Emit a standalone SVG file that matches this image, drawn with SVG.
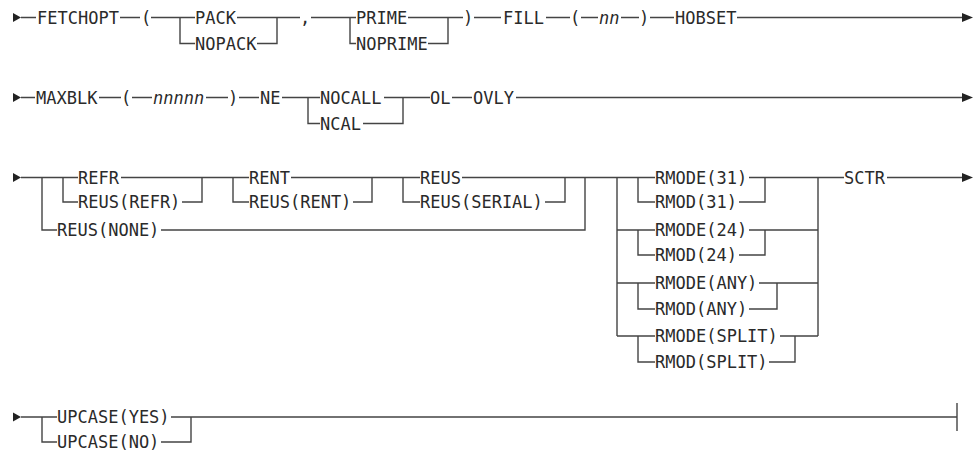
<svg xmlns="http://www.w3.org/2000/svg" width="974" height="454" viewBox="0 0 974 454">
<style>
text{font-family:"DejaVu Sans Mono","Liberation Mono",monospace;font-size:17px;fill:#2a2a2a}
.i{font-style:italic}
.c path{fill:none;stroke:#444;stroke-width:1.4}
.a{fill:#222}
</style>
<rect width="974" height="454" fill="#fff"/>
<g class="c" id="connectors">
<path d="M21 17.5H36M120 17.5H140M151 17.5H195M180 17.5V43.5H195M237 17.5H300M257 43.5H277V17.5M311 17.5H356M350 17.5V43.5H356M408 17.5H463M428 43.5H448V17.5M474 17.5H501M546 17.5H570M581 17.5H598M621 17.5H639M650 17.5H674M737 17.5H962"/>
<path d="M21 97.5H35M99 97.5H121M132 97.5H152M206 97.5H228M239 97.5H259M282 97.5H320M308 97.5V123.5H320M384 97.5H430M363 123.5H403V97.5M452 97.5H472M516 97.5H962"/>
<path d="M21 177.5H78M42 177.5V230H57M63 177.5V202H78M121 177.5H249M182 202H202V177.5M233 177.5V202H249M291 177.5H420M353 202H372V177.5M403 177.5V202H420M462 177.5H655M545 202H565V177.5M161 230H585V177.5M617 177.5V336M638 177.5V202H655M617 230H655M638 230V255H655M617 283H655M638 283V309H655M617 336H655M638 336V362H655M749 177.5H844M739 202H765V177.5M749 230H818M739 255H765V230M759 283H818M749 309H777V283M780 336H818M769 362H795V336M818 177.5V336M887 177.5H962"/>
<path d="M21 417H57M42 417V442H57M171 417H957M161 442H191V417M957 403V431"/>
<polygon class="a" points="13,13 21,17.5 13,22"/>
<polygon class="a" points="962,13 973,17.5 962,22"/>
<polygon class="a" points="13,93 21,97.5 13,102"/>
<polygon class="a" points="962,93 973,97.5 962,102"/>
<polygon class="a" points="13,173 21,177.5 13,182"/>
<polygon class="a" points="962,173 973,177.5 962,182"/>
<polygon class="a" points="13,412.5 21,417 13,421.5"/>
</g>
<g id="n-fetchopt"><text x="37" y="23.7">FETCHOPT</text></g>
<g id="n-lp1"><text x="141" y="23.7">(</text></g>
<g id="n-pack"><text x="195" y="23.7">PACK</text></g>
<g id="n-nopack"><text x="195" y="49.7">NOPACK</text></g>
<g id="n-comma"><text x="300" y="23.7">,</text></g>
<g id="n-prime"><text x="356" y="23.7">PRIME</text></g>
<g id="n-noprime"><text x="356" y="49.7">NOPRIME</text></g>
<g id="n-rp1"><text x="463" y="23.7">)</text></g>
<g id="n-fill"><text x="503" y="23.7">FILL</text></g>
<g id="n-lp2"><text x="570" y="23.7">(</text></g>
<g id="n-nn"><text class="i" x="599" y="23.7">nn</text></g>
<g id="n-rp2"><text x="639" y="23.7">)</text></g>
<g id="n-hobset"><text x="675" y="23.7">HOBSET</text></g>
<g id="n-maxblk"><text x="36" y="103.7">MAXBLK</text></g>
<g id="n-lp3"><text x="121" y="103.7">(</text></g>
<g id="n-nnnnn"><text class="i" x="153" y="103.7">nnnnn</text></g>
<g id="n-rp3"><text x="228" y="103.7">)</text></g>
<g id="n-ne"><text x="260" y="103.7">NE</text></g>
<g id="n-nocall"><text x="320" y="103.7">NOCALL</text></g>
<g id="n-ncal"><text x="320" y="129.7">NCAL</text></g>
<g id="n-ol"><text x="430" y="103.7">OL</text></g>
<g id="n-ovly"><text x="473" y="103.7">OVLY</text></g>
<g id="n-refr"><text x="78" y="183.7">REFR</text></g>
<g id="n-reusrefr"><text x="78" y="208.2">REUS(REFR)</text></g>
<g id="n-reusnone"><text x="57" y="236.2">REUS(NONE)</text></g>
<g id="n-rent"><text x="249" y="183.7">RENT</text></g>
<g id="n-reusrent"><text x="249" y="208.2">REUS(RENT)</text></g>
<g id="n-reus"><text x="420" y="183.7">REUS</text></g>
<g id="n-reusserial"><text x="420" y="208.2">REUS(SERIAL)</text></g>
<g id="n-rmode31"><text x="655" y="183.7">RMODE(31)</text></g>
<g id="n-rmod31"><text x="655" y="208.2">RMOD(31)</text></g>
<g id="n-rmode24"><text x="655" y="236.2">RMODE(24)</text></g>
<g id="n-rmod24"><text x="655" y="261.2">RMOD(24)</text></g>
<g id="n-rmodeany"><text x="655" y="289.2">RMODE(ANY)</text></g>
<g id="n-rmodany"><text x="655" y="315.2">RMOD(ANY)</text></g>
<g id="n-rmodesplit"><text x="655" y="342.2">RMODE(SPLIT)</text></g>
<g id="n-rmodsplit"><text x="655" y="368.2">RMOD(SPLIT)</text></g>
<g id="n-sctr"><text x="844" y="183.7">SCTR</text></g>
<g id="n-upcaseyes"><text x="57" y="423.2">UPCASE(YES)</text></g>
<g id="n-upcaseno"><text x="57" y="448.2">UPCASE(NO)</text></g>
</svg>
